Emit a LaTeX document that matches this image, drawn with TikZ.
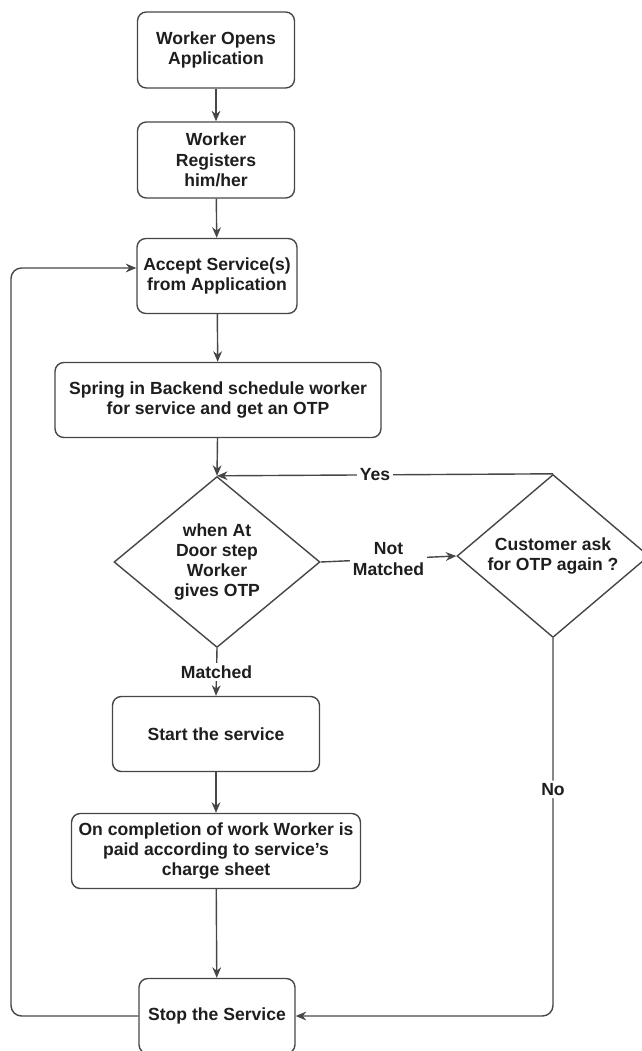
\documentclass[tikz,border=0pt]{standalone}
\usepackage{fontspec}
\setmainfont{Liberation Sans}
\usepackage{tikz}
\usetikzlibrary{positioning,calc,shapes.geometric,arrows.meta}

\definecolor{edge}{RGB}{70,70,70}
\definecolor{ink}{RGB}{30,30,30}

\tikzset{
    box/.style={draw=edge, line width=0.8pt, rounded corners=5pt, align=center,
        inner sep=1pt, text=ink, font=\fontsize{10}{11.5}\selectfont\bfseries},
    dec/.style={draw=edge, line width=0.8pt, diamond, shape aspect=1.2, align=center,
        inner sep=0pt, text=ink, font=\fontsize{10}{11.5}\selectfont\bfseries},
    arr/.style={draw=edge, line width=0.8pt, -{Stealth[length=6pt,width=5pt]}},
    lbl/.style={fill=white, inner sep=1.5pt, text=ink, align=center,
        font=\fontsize{10}{11.5}\selectfont\bfseries},
}

\begin{document}
\begin{tikzpicture}[x=0.02cm,y=-0.02cm]
    \useasboundingbox (0,0) rectangle (642,1051);

    \node[box, minimum width=3.14cm, minimum height=1.52cm] (open) at (216,50) {Worker Opens\\Application};
    \node[box, minimum width=3.14cm, minimum height=1.52cm] (reg) at (216,160) {Worker\\Registers\\him/her};
    \node[box, minimum width=3.2cm, minimum height=1.5cm] (accept) at (217,276) {Accept Service(s)\\from Application};
    \node[box, minimum width=6.52cm, minimum height=1.5cm] (spring) at (218,400) {Spring in Backend schedule worker\\for service and get an OTP};
    \node[dec, minimum width=4.12cm, minimum height=3.42cm] (door) at (217,562) {when At\\Door step\\Worker\\gives OTP};
    \node[dec, minimum width=3.84cm, minimum height=3.26cm] (ask) at (553,556) {Customer ask\\for OTP again ?};
    \node[box, minimum width=4.14cm, minimum height=1.5cm] (start) at (216,734) {Start the service};
    \node[box, minimum width=5.78cm, minimum height=1.5cm] (paid) at (216,851) {On completion of work Worker is\\paid according to service\symbol{39}s\\charge sheet};
    \node[box, minimum width=3.12cm, minimum height=1.5cm] (stop) at (217,1016) {Stop the Service};

    \coordinate (lt) at (11,268);

    \draw[arr] (open) -- (reg);
    \draw[arr] (reg) -- (accept);
    \draw[arr] (accept) -- (spring);
    \draw[arr] (spring) -- (door.north);
    \draw[arr] (door.east) -- node[lbl] {Not\\Matched} (ask.west);
    \draw[arr] (ask.north) -- node[lbl, pos=0.53] {Yes} (door.north);
    \draw[arr] (door.south) -- node[lbl] {Matched} (start.north);
    \draw[arr] (start) -- (paid);
    \draw[arr] (paid) -- (stop);
    \draw[arr, rounded corners=6pt] (ask.south) |- node[lbl, pos=0.2] {No} (stop.east);
    \draw[arr, rounded corners=6pt] (stop.west) -| (lt) -- (lt -| accept.west);

\end{tikzpicture}
\end{document}
